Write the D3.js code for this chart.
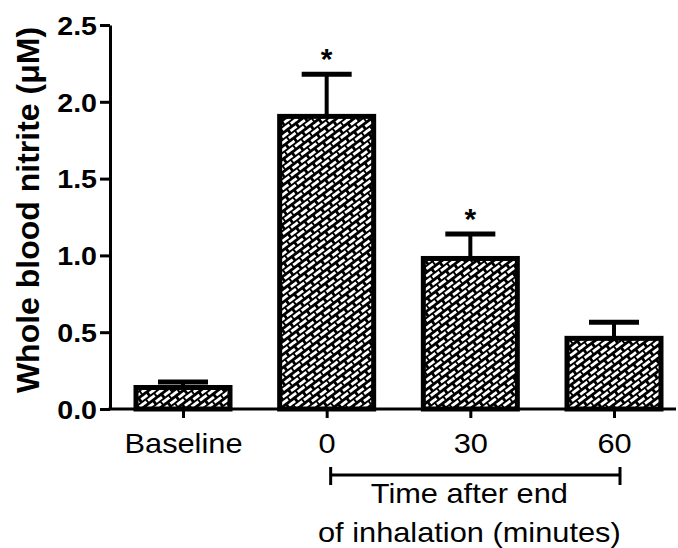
<!DOCTYPE html>
<html>
<head>
<meta charset="utf-8">
<script src="https://cdnjs.cloudflare.com/ajax/libs/d3/7.8.5/d3.min.js"></script>
<style>
body { margin: 0; background: #fff; }
svg { display: block; }
text { font-family: "Liberation Sans", Arial, sans-serif; fill: #000; }
</style>
</head>
<body>
<svg id="mainSvg" width="678" height="548"></svg>
<script>
var categories = ["Baseline", "0", "30", "60"];
var means = [0.14, 1.905, 0.98, 0.46];
var sems = [0.035, 0.275, 0.16, 0.105];
var stars = ["", "*", "*", ""];
var yTicks = [0, 0.5, 1.0, 1.5, 2.0, 2.5];
var yTitle = "Whole blood nitrite (\u03bcM)";
var xTitle = ["Time after end", "of inhalation (minutes)"];

var svg = d3.select("#mainSvg");
var sx = 1.14; // the figure's text is a bit wider than plain Arial

var y = d3.scaleLinear().domain([0, 2.5]).range([409, 25]);
var x = d3.scalePoint().domain(categories).range([183, 614]);
var barW = 94;

// brick hatch
var tile = 10.4, lw = 2;
var defs = svg.append("defs");
var pat = defs.append("pattern")
	.attr("id", "brick")
	.attr("patternUnits", "userSpaceOnUse")
	.attr("width", tile).attr("height", tile)
	.attr("patternTransform", "rotate(-37)");
pat.append("rect").attr("width", tile).attr("height", tile).attr("fill", "#fff");
var pg = pat.append("g").attr("fill", "#000").attr("shape-rendering", "crispEdges");
pg.append("rect").attr("x", 0).attr("y", 0).attr("width", tile).attr("height", lw);
pg.append("rect").attr("x", 0).attr("y", tile / 2).attr("width", tile).attr("height", lw);
pg.append("rect").attr("x", 0).attr("y", 0).attr("width", lw).attr("height", tile / 2);
pg.append("rect").attr("x", tile / 2).attr("y", tile / 2).attr("width", lw).attr("height", tile / 2);

var data = categories.map(function(c, i) {
	return {cat: c, v: means[i], e: sems[i], star: stars[i]};
});

// error bars (upper only)
var eb = svg.append("g").selectAll("g").data(data).enter().append("g");
eb.append("line")
	.attr("x1", function(d) { return x(d.cat); })
	.attr("x2", function(d) { return x(d.cat); })
	.attr("y1", function(d) { return y(d.v); })
	.attr("y2", function(d) { return y(d.v + d.e); })
	.attr("stroke", "#000").attr("stroke-width", 4);
eb.append("line")
	.attr("x1", function(d) { return x(d.cat) - 25; })
	.attr("x2", function(d) { return x(d.cat) + 25; })
	.attr("y1", function(d) { return y(d.v + d.e); })
	.attr("y2", function(d) { return y(d.v + d.e); })
	.attr("stroke", "#000").attr("stroke-width", 5);

// bars
svg.append("g").selectAll("rect").data(data).enter().append("rect")
	.attr("x", function(d) { return x(d.cat) - barW / 2; })
	.attr("width", barW)
	.attr("y", function(d) { return y(d.v); })
	.attr("height", function(d) { return y(0) - y(d.v); })
	.attr("fill", "url(#brick)")
	.attr("stroke", "#000").attr("stroke-width", 5);

// significance stars
svg.append("g").selectAll("text").data(data.filter(function(d) { return d.star; })).enter().append("text")
	.attr("x", function(d) { return x(d.cat); })
	.attr("y", function(d) { return y(d.v + d.e) - 5; })
	.attr("text-anchor", "middle")
	.attr("font-weight", "bold")
	.attr("font-size", 30)
	.text(function(d) { return d.star; });

// y axis
var yAxis = svg.append("g").attr("transform", "translate(110,0)")
	.call(d3.axisLeft(y).tickValues(yTicks).tickFormat(d3.format(".1f")).tickSize(10).tickSizeOuter(0));
yAxis.select(".domain").attr("stroke-width", 3);
yAxis.selectAll(".tick line").attr("stroke-width", 3);
yAxis.selectAll(".tick text")
	.attr("font-family", "Liberation Sans, Arial, sans-serif")
	.attr("font-size", 26).attr("font-weight", "bold")
	.attr("x", -13 / 1.1).attr("dy", "0.36em")
	.attr("transform", "scale(1.1,1)");

// x axis
var xAxis = svg.append("g").attr("transform", "translate(0," + y(0) + ")")
	.call(d3.axisBottom(x).tickSize(9).tickSizeOuter(0));
xAxis.select(".domain").remove();
xAxis.selectAll(".tick line").attr("stroke-width", 3);
xAxis.selectAll(".tick text")
	.attr("font-family", "Liberation Sans, Arial, sans-serif")
	.attr("font-size", 27)
	.attr("y", 44).attr("dy", 0)
	.attr("transform", "scale(" + sx + ",1)");
svg.append("line")
	.attr("x1", 108.5).attr("x2", 676)
	.attr("y1", y(0)).attr("y2", y(0))
	.attr("stroke", "#000").attr("stroke-width", 3);

// bracket under the time points
var bx1 = x("0") + 4, bx2 = x("60") + 6, by = 475;
var br = svg.append("g").attr("stroke", "#000").attr("stroke-width", 3);
br.append("line").attr("x1", bx1).attr("x2", bx2).attr("y1", by).attr("y2", by);
br.append("line").attr("x1", bx1).attr("x2", bx1).attr("y1", by - 8).attr("y2", by + 10);
br.append("line").attr("x1", bx2).attr("x2", bx2).attr("y1", by - 8).attr("y2", by + 10);

var xt = svg.append("g");
xTitle.forEach(function(t, i) {
	xt.append("text")
		.attr("transform", "translate(" + ((bx1 + bx2) / 2 - 6) + "," + (503 + i * 39) + ") scale(" + sx + ",1)")
		.attr("text-anchor", "middle")
		.attr("font-size", 27)
		.text(t);
});

// y title
svg.append("text")
	.attr("transform", "translate(39,210) rotate(-90)")
	.attr("text-anchor", "middle")
	.attr("font-weight", "bold")
	.attr("font-size", 32)
	.text(yTitle);
</script>
</body>
</html>
